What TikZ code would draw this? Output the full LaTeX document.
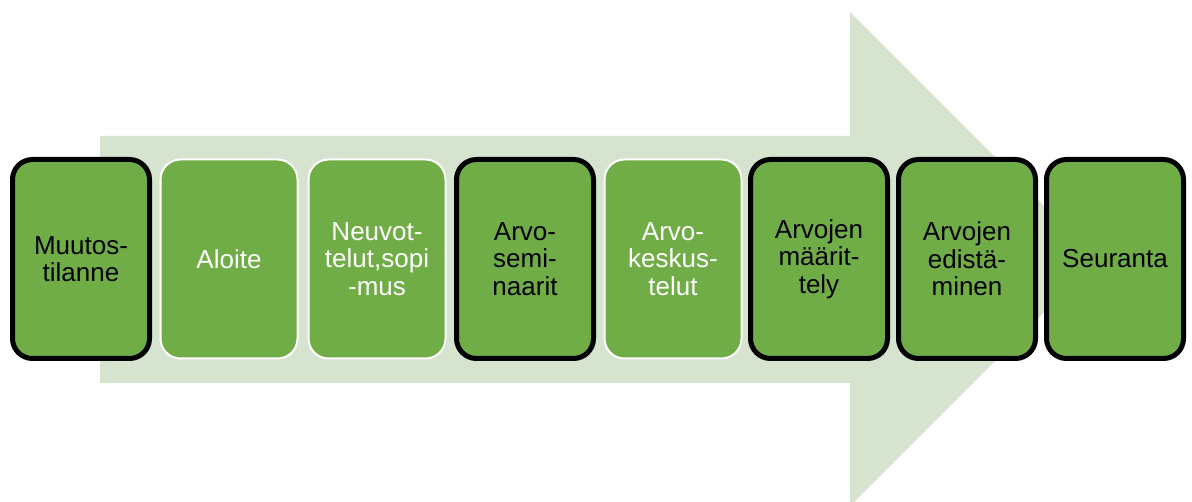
\documentclass[tikz,border=0pt]{standalone}
\usepackage{fontspec}
\setmainfont{Liberation Sans}
\definecolor{stepgreen}{RGB}{112,173,71}
\definecolor{arrowgreen}{RGB}{214,227,207}
\begin{document}
\begin{tikzpicture}[x=1pt,y=-1pt,
  stage/.style={rounded corners=20pt, fill=stepgreen, minimum width=137pt,
    minimum height=199pt, align=center, inner sep=0pt,
    font=\fontsize{26}{27.5}\selectfont},
  darkstage/.style={stage, draw=black, line width=5pt, text=black},
  lightstage/.style={stage, draw=white, line width=2pt, text=white}]
\useasboundingbox (0,0) rectangle (1192,502);
\clip (0,0) rectangle (1192,502);
% broad background arrow
\fill[arrowgreen] (100,136) -- (850,136) -- (850,12) -- (1097,259)
  -- (850,506) -- (850,383) -- (100,383) -- cycle;
% process stages
\node[darkstage]  (s1) at (81,259)    {Muutos-\\tilanne};
\node[lightstage] (s2) at (229,259)   {Aloite};
\node[lightstage] (s3) at (377,259)   {Neuvot-\\telut,sopi\\-mus};
\node[darkstage]  (s4) at (525,259)   {Arvo-\\semi-\\naarit};
\node[lightstage] (s5) at (673,259)   {Arvo-\\keskus-\\telut};
\node[darkstage]  (s6) at (819,259)   {Arvojen\\määrit-\\tely};
\node[darkstage]  (s7) at (967,259)   {Arvojen\\edistä-\\minen};
\node[darkstage]  (s8) at (1115,259)  {Seuranta};
\end{tikzpicture}
\end{document}
